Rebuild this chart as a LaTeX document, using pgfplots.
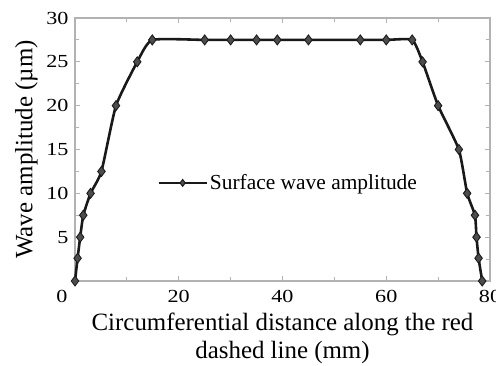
\documentclass[border=0pt]{standalone}
\usepackage{pgfplots}
\pgfplotsset{compat=1.18}
\usepackage{fontspec}
\setmainfont{Liberation Serif}
\newfontfamily\tickfont[FakeStretch=1.2]{Liberation Serif}
\begin{document}
\begin{tikzpicture}
\begin{axis}[
  scale only axis, width=415bp, height=263bp,
  at={(0,0)}, anchor=south west,
  xmin=0, xmax=80, ymin=0, ymax=30,
  xtick={20,40,60,80}, ytick={5,10,15,20,25,30},
  extra x ticks={0}, extra x tick style={xticklabel style={xshift=-13bp}},
  minor xtick={10,30,50,70}, minor ytick={2.5,7.5,12.5,17.5,22.5,27.5},
  tick align=inside, major tick length=5bp, minor tick length=4bp,
  axis line style={draw=gray!60, line width=1.4pt},
  every tick/.style={draw=gray!60, line width=1pt},
  tick label style={font=\tickfont\fontsize{18.5}{18.5}\selectfont},
  /pgf/number format/assume math mode=true,
  xticklabel style={anchor=north, yshift=-6bp},
  yticklabel style={anchor=east, xshift=-3bp},
  xlabel={Circumferential distance along the red\\dashed line (mm)},
  xlabel style={font=\fontsize{25}{28}\selectfont, align=center,
    at={(axis description cs:0.5,-0.11)}, anchor=north},
  ylabel={Wave amplitude (\textmu m)},
  ylabel style={font=\fontsize{25}{28}\selectfont,
    at={(axis description cs:-0.103,0.5)}, anchor=base, rotate=0},
  legend style={draw=none, fill=none, at={(0.198,0.373)}, anchor=west, inner sep=0pt,
    font=\fontsize{21.5}{22}\selectfont},
  legend cell align=left,
  legend image code/.code={\draw[#1, mark repeat=2, mark phase=2, mark size=3.5bp] plot coordinates {(0bp,0bp) (24bp,0bp) (48bp,0bp)};},
  clip=false,
]
\addplot[black!90, line width=2.6pt, smooth, tension=0.3,
  mark=diamond*, mark size=5bp, mark options={fill=gray!60!black, draw=black!90, line width=0.9pt}]
  coordinates {
  (0,0) (0.5,2.6) (1,5) (1.6,7.5) (3,10) (5.1,12.5) (7.9,20) (12,25) (14.9,27.5)
  (25,27.5) (30,27.5) (35,27.5) (39,27.5) (45,27.5) (55,27.5) (60,27.5) (65,27.5)
  (67,25) (70,20) (74,15) (75.6,10) (77.1,7.5) (77.4,5) (77.8,2.6) (78.5,0)
  };
\addlegendentry{Surface wave amplitude}
\end{axis}
\pgfresetboundingbox
\path (-75bp,-85bp) rectangle (421bp,281bp);
\end{tikzpicture}
\end{document}
